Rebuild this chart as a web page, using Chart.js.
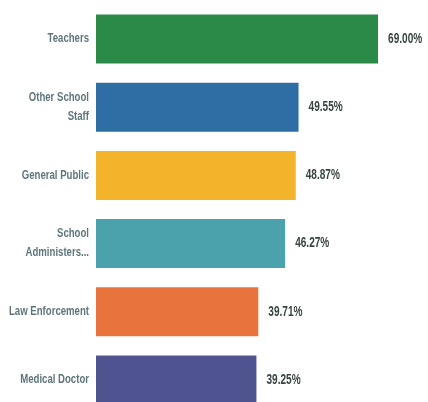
<!DOCTYPE html>
<html>
<head>
<meta charset="utf-8">
<script src="https://cdn.jsdelivr.net/npm/chart.js@4.4.1/dist/chart.umd.min.js"></script>
<style>
    html, body { margin: 0; padding: 0; background: #fff; overflow: hidden; }
    #wrap { position: relative; width: 428px; height: 420px; }
</style>
</head>
<body>
<div id="wrap"><canvas id="chart-trust"></canvas></div>
<script>
const categories = [
    "Teachers",
    ["Other School", "Staff"],
    "General Public",
    ["School", "Administers..."],
    "Law Enforcement",
    "Medical Doctor"
];
const percentValues = [69.00, 49.55, 48.87, 46.27, 39.71, 39.25];
const barColors = ["#2b8a48", "#2f6ea5", "#f3b42c", "#4ba2ac", "#e8733c", "#4f5490"];

const LABEL_FONT = "'Liberation Sans', Arial, sans-serif";

// draws text squeezed horizontally so it reads as a condensed face
function narrowText(ctx, text, x, y, squeeze, align) {
    ctx.save();
    ctx.translate(x, y);
    ctx.scale(squeeze, 1);
    ctx.textAlign = align;
    ctx.fillText(text, 0, 0);
    ctx.restore();
}

// category names on the left, one line per array entry
const categoryLabels = {
    id: "categoryLabels",
    afterDraw(chart) {
        const ctx = chart.ctx;
        const yScale = chart.scales.y;
        const right = chart.chartArea.left - 7;
        ctx.save();
        ctx.font = "bold 12px " + LABEL_FONT;
        ctx.fillStyle = "#5e767b";
        ctx.textBaseline = "middle";
        categories.forEach((cat, i) => {
            const lines = Array.isArray(cat) ? cat : [cat];
            const y0 = yScale.getPixelForValue(i) - (lines.length - 1) * 19 / 2;
            lines.forEach((line, j) => {
                narrowText(ctx, line, right, y0 + j * 19, 0.8, "right");
            });
        });
        ctx.restore();
    }
};

// writes the percentage just past the end of each bar
const valueLabels = {
    id: "valueLabels",
    afterDatasetsDraw(chart) {
        const ctx = chart.ctx;
        const meta = chart.getDatasetMeta(0);
        ctx.save();
        ctx.font = "bold 14px " + LABEL_FONT;
        ctx.fillStyle = "#38443f";
        ctx.textBaseline = "middle";
        meta.data.forEach((bar, i) => {
            narrowText(ctx, percentValues[i].toFixed(2) + "%", bar.x + 10, bar.y, 0.72, "left");
        });
        ctx.restore();
    }
};

new Chart(document.getElementById("chart-trust"), {
    type: "bar",
    data: {
        labels: categories,
        datasets: [{
            data: percentValues,
            backgroundColor: barColors,
            borderWidth: 0,
            barPercentage: 0.72,
            categoryPercentage: 1
        }]
    },
    options: {
        indexAxis: "y",
        responsive: true,
        maintainAspectRatio: false,
        animation: false,
        layout: { padding: { top: 5, right: 5, bottom: 6, left: 0 } },
        plugins: {
            legend: { display: false },
            tooltip: { enabled: false }
        },
        scales: {
            x: {
                min: 0,
                max: 80,
                display: false
            },
            y: {
                border: { display: false },
                grid: { display: false, drawTicks: false },
                afterFit(scale) { scale.width = 96; },
                ticks: { display: false }
            }
        }
    },
    plugins: [valueLabels, categoryLabels]
});
</script>
</body>
</html>
